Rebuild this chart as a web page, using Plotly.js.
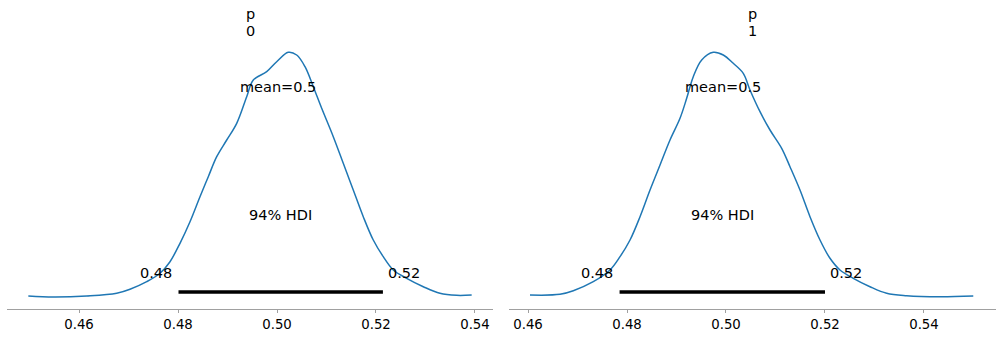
<!DOCTYPE html>
<html>
<head>
<meta charset="utf-8">
<script src="https://cdn.plot.ly/plotly-3.0.1.min.js"></script>
<style>html,body{margin:0;padding:0;background:#fff;}#chart{width:1001px;height:337px;}</style>
</head>
<body>
<div id="chart"></div>
<script>
// Posterior density of p[0]
const p0X = [0.44976,0.45481,0.46156,0.46762,0.4703,0.47368,0.47636,0.47838,0.4804,0.48242,0.48444,0.48612,0.48782,0.48984,0.49186,0.49388,0.49521,0.49792,0.49994,0.50228,0.50398,0.50566,0.50733,0.50903,0.51137,0.51339,0.51541,0.51743,0.51945,0.52147,0.52349,0.5262,0.52956,0.53293,0.5363,0.53933];
const p0Y = [0.15,0,0.15,0.555,1.155,2.295,3.555,5.295,8.055,11.295,15.045,18.045,21.045,23.55,26.055,30.045,32.55,33.795,35.295,36.705,36.3,34.545,31.545,28.305,24.045,20.055,16.05,12.045,8.55,6.045,4.05,2.805,1.545,0.555,0.255,0.3];
// Posterior density of p[1]
const p1X = [0.4604,0.46646,0.46915,0.47319,0.47657,0.47859,0.48061,0.48263,0.48465,0.48667,0.48869,0.49071,0.49206,0.49339,0.49509,0.49743,0.49945,0.50147,0.50349,0.50485,0.50687,0.50889,0.51125,0.51293,0.51495,0.51697,0.51899,0.52101,0.52303,0.52572,0.52909,0.53246,0.5365,0.54323,0.54996];
const p1Y = [0.3,0.405,0.945,2.295,4.05,6.045,8.55,12.045,16.05,19.8,23.55,26.805,29.805,33.045,35.55,36.705,36.3,35.055,33.555,31.05,27.795,25.05,22.305,19.545,16.05,12.045,8.55,5.805,4.05,2.805,1.545,0.555,0.195,0.045,0.15];
const panelTitles = ["0", "1"];
const hdiLow = [0.4801, 0.4785];
const hdiHigh = [0.5214, 0.5200];
const hdiLabels = [["0.48","0.52"],["0.48","0.52"]];
const means = [0.5002, 0.4993];
const meanLabels = ["mean=0.5", "mean=0.5"];
const tickVals = [0.46, 0.48, 0.50, 0.52, 0.54];
const tickText = ["0.46", "0.48", "0.50", "0.52", "0.54"];

const FONT = "DejaVu Sans, sans-serif";
const curves = [[p0X, p0Y], [p1X, p1Y]];
const traces = [];
const annotations = [];
curves.forEach((c, i) => {
  const xa = i === 0 ? "x" : "x2";
  const ya = i === 0 ? "y" : "y2";
  traces.push({x: c[0], y: c[1], xaxis: xa, yaxis: ya, type: "scatter", mode: "lines",
    line: {color: "#1f77b4", width: 1.5, shape: "spline", smoothing: 1}, hoverinfo: "skip"});
  traces.push({x: [hdiLow[i], hdiHigh[i]], y: [0.75, 0.75], xaxis: xa, yaxis: ya, type: "scatter", mode: "lines",
    line: {color: "#000", width: 3.5}, hoverinfo: "skip"});
  const tf = {family: FONT, size: 14.5, color: "#000"};
  annotations.push({xref: xa, yref: ya, x: hdiLow[i], y: 3.6, text: hdiLabels[i][0], showarrow: false, xshift: -22.5, font: tf});
  annotations.push({xref: xa, yref: ya, x: hdiHigh[i], y: 3.6, text: hdiLabels[i][1], showarrow: false, xshift: 21.5, font: tf});
  annotations.push({xref: xa, yref: ya, x: means[i], y: 31.5, text: meanLabels[i], showarrow: false, font: tf});
  annotations.push({xref: xa, yref: ya, x: (hdiLow[i] + hdiHigh[i]) / 2, y: 12.3, text: "94% HDI", showarrow: false, font: tf});
  annotations.push({xref: xa + " domain", yref: "paper", x: 0.5, y: (309 - 14) / 269, text: "p", showarrow: false, font: tf, yanchor: "middle"});
  annotations.push({xref: xa + " domain", yref: "paper", x: 0.5, y: (309 - 31) / 269, text: panelTitles[i], showarrow: false, font: tf, yanchor: "middle"});
});

const xbase = {showline: true, linecolor: "#a0a0a0", linewidth: 1, showgrid: false, zeroline: false,
  ticks: "outside", ticklen: 3, tickcolor: "#a0a0a0", tickwidth: 1,
  tickvals: tickVals, ticktext: tickText, tickfont: {family: FONT, size: 13.3, color: "#000"}, fixedrange: true};
const ybase = {visible: false, range: [-1.8, 38.55], fixedrange: true};

const layout = {
  width: 1001, height: 337, showlegend: false,
  margin: {l: 0, r: 0, t: 40, b: 28},
  paper_bgcolor: "#fff", plot_bgcolor: "#fff",
  xaxis: Object.assign({}, xbase, {domain: [7 / 1001, 493 / 1001], range: [0.44545, 0.54364], anchor: "y"}),
  xaxis2: Object.assign({}, xbase, {domain: [509 / 1001, 996 / 1001], range: [0.45616, 0.55455], anchor: "y2"}),
  yaxis: Object.assign({}, ybase, {anchor: "x"}),
  yaxis2: Object.assign({}, ybase, {anchor: "x2"}),
  annotations: annotations
};
Plotly.newPlot("chart", traces, layout, {displayModeBar: false, staticPlot: true});
</script>
</body>
</html>
